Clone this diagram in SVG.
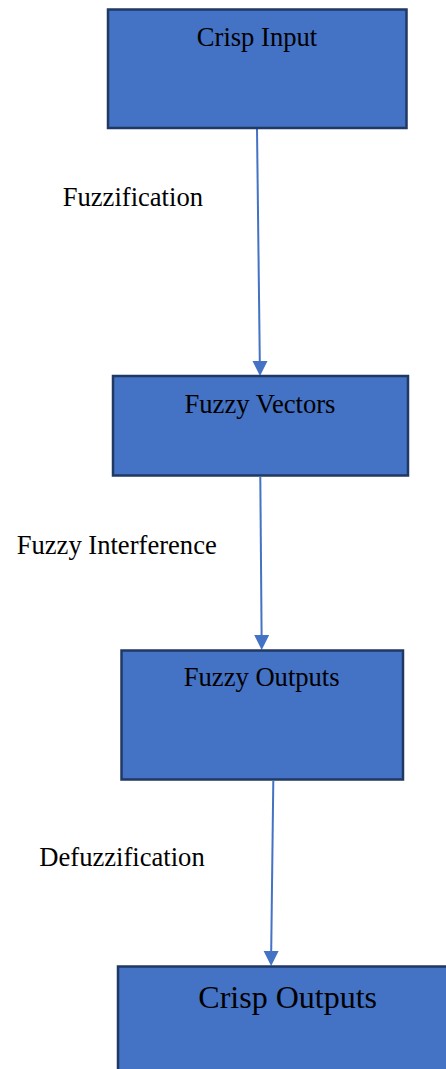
<svg xmlns="http://www.w3.org/2000/svg" width="446" height="1069" viewBox="0 0 446 1069">
<style>
.box{fill:#4472C4;stroke:#1F3864;stroke-width:2.5}
.t{font-family:"Liberation Serif","Times New Roman",serif;font-size:26.6px;fill:#000}
.lbl{font-family:"Liberation Serif","Times New Roman",serif;font-size:26.6px;fill:#000}
.con{stroke:#4472C4;stroke-width:2;fill:none}
.head{fill:#4472C4}
</style>
<rect width="446" height="1069" fill="#fff"/>
<g id="connectors">
<line class="con" x1="257" y1="129" x2="259.8" y2="362"/>
<polygon class="head" points="252.5,361 267.5,361 260,376"/>
<line class="con" x1="260.3" y1="477" x2="261.6" y2="636"/>
<polygon class="head" points="254.2,635 269.2,635 261.7,650"/>
<line class="con" x1="273.3" y1="781" x2="271.2" y2="952"/>
<polygon class="head" points="263.6,951 278.6,951 271.1,966"/>
</g>
<g id="crisp-input">
<rect class="box" x="108" y="9.5" width="298.5" height="118.5"/>
<text class="t" x="257" y="46" text-anchor="middle">Crisp Input</text>
</g>
<g id="label-fuzzification">
<text class="lbl" x="62.7" y="205.7">Fuzzification</text>
</g>
<g id="fuzzy-vectors">
<rect class="box" x="113" y="376" width="295" height="99.5"/>
<text class="t" x="260" y="412.7" text-anchor="middle">Fuzzy Vectors</text>
</g>
<g id="label-fuzzy-interference">
<text class="lbl" x="16.7" y="554.3">Fuzzy Interference</text>
</g>
<g id="fuzzy-outputs">
<rect class="box" x="121.5" y="650.5" width="281.5" height="129"/>
<text class="t" x="261.7" y="686" text-anchor="middle">Fuzzy Outputs</text>
</g>
<g id="label-defuzzification">
<text class="lbl" x="39.3" y="865.7">Defuzzification</text>
</g>
<g id="crisp-outputs">
<rect class="box" x="118" y="966.5" width="340" height="120"/>
<text class="t" x="287.7" y="1007.7" text-anchor="middle" style="font-size:32px">Crisp Outputs</text>
</g>
</svg>
